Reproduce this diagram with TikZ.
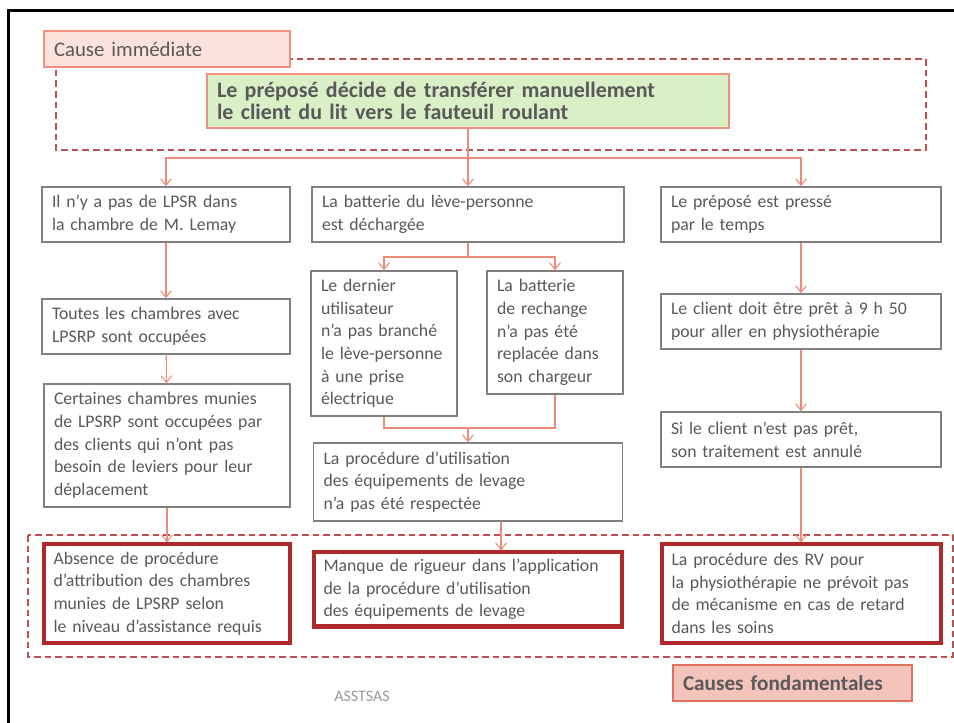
\documentclass[tikz,border=0pt]{standalone}
\usepackage{fontspec}
\setmainfont{Carlito}
\usetikzlibrary{arrows.meta}
\definecolor{txt}{HTML}{595959}
\definecolor{conn}{HTML}{EE8B78}
\definecolor{dash}{HTML}{C0504D}
\definecolor{thick}{HTML}{B0282A}
\definecolor{gbord}{HTML}{808080}
\definecolor{cifill}{HTML}{FBE2DD}
\definecolor{ciline}{HTML}{F09080}
\definecolor{gfill}{HTML}{D9EFC5}
\definecolor{cffill}{HTML}{F4C3BA}
\definecolor{cfline}{HTML}{E07060}
\newcommand{\bodyfs}{\fontsize{13.3}{17}\selectfont}
\begin{document}
\begin{tikzpicture}[x=0.75pt,y=-0.75pt,
  wh/.code 2 args={%
    \pgfmathsetlengthmacro\boxw{#1*0.75pt}%
    \pgfmathsetlengthmacro\boxh{#2*0.75pt}%
    \pgfmathsetlengthmacro\boxtw{(#1-20)*0.75pt}%
    \pgfkeysalso{minimum width=\boxw, minimum height=\boxh, text width=\boxtw}},
  basebox/.style={align=left, inner xsep=7.5pt, inner ysep=2pt, text=txt, font=\bodyfs},
  box/.style={basebox, draw=gbord, line width=1.1pt, fill=white},
  rootbox/.style={basebox, draw=thick, line width=3pt, fill=white},
  tag/.style={basebox, draw=ciline, line width=0.9pt},
  group/.style={draw=dash, line width=1.5pt, dash pattern=on 5pt off 3pt},
  conn/.style={draw=conn, line width=0.8pt},
  arr/.style={conn, -{Straight Barb[length=5pt,width=8pt]}},
]
\useasboundingbox (0,0) rectangle (954,723);
\fill[white] (0,0) rectangle (954,723);
\draw[black, line width=2.2pt] (8.5,723) -- (8.5,10.5) -- (954,10.5);

% top group
\draw[group] (56,59) rectangle (926,150);
\node[tag, fill=cifill, wh={246}{36}, font=\fontsize{15.6}{17}\selectfont] (ci) at (167,49) {Cause immédiate};
\node[tag, fill=gfill, draw=ciline, wh={522}{54}, font=\fontsize{16.5}{16}\selectfont\bfseries] (g) at (468,101)
  {Le préposé décide de transférer manuellement\\le client du lit vers le fauteuil roulant};

% bottom group
\draw[group] (28,535) rectangle (953,657);

% column A
\node[box, wh={248}{55}] (a1) at (166,214.5) {Il n’y a pas de LPSR dans\\la chambre de M. Lemay};
\node[box, wh={248}{55}] (a2) at (166,326.5) {Toutes les chambres avec\\LPSRP sont occupées};
\node[box, wh={246}{123}] (a3) at (167,445.5) {Certaines chambres munies\\de LPSRP sont occupées par\\des clients qui n’ont pas\\besoin de leviers pour leur\\déplacement};

% column B
\node[box, wh={312}{55}] (b1) at (468,214.5) {La batterie du lève-personne\\est déchargée};
\node[box, wh={146}{145}] (b2a) at (384,343.5) {Le dernier\\utilisateur\\n’a pas branché\\le lève-personne\\à une prise\\électrique};
\node[box, wh={136}{123}] (b2b) at (555,332.5) {La batterie\\de rechange\\n’a pas été\\replacée dans\\son chargeur};
\node[box, wh={309}{78}] (b3) at (468,482) {La procédure d’utilisation\\des équipements de levage\\n’a pas été respectée};

% column C
\node[box, wh={280}{55}] (c1) at (801,214.5) {Le préposé est pressé\\par le temps};
\node[box, wh={280}{55}] (c2) at (801,321.5) {Le client doit être prêt à 9 h 50\\pour aller en physiothérapie};
\node[box, wh={280}{55}] (c3) at (801,439.5) {Si le client n’est pas prêt,\\son traitement est annulé};

% root causes
\node[rootbox, wh={246}{98}] (d1) at (166.5,593.5) {Absence de procédure\\d’attribution des chambres\\munies de LPSRP selon\\le niveau d’assistance requis};
\node[rootbox, wh={308}{74}] (d2) at (467.5,589.5) {Manque de rigueur dans l’application\\de la procédure d’utilisation\\des équipements de levage};
\node[rootbox, wh={279}{98}] (d3) at (801,593.5) {La procédure des RV pour\\la physiothérapie ne prévoit pas\\de mécanisme en cas de retard\\dans les soins};

\node[tag, draw=cfline, fill=cffill, wh={239}{36}, font=\fontsize{15.9}{17}\selectfont\bfseries] (cf) at (792.5,683) {Causes fondamentales};
\node[text=gbord!80, font=\fontsize{12}{13}\selectfont] (asst) at (362,696) {ASSTSAS};

% connectors
\coordinate (jt) at (468,158);
\draw[conn] (g.south) -- (jt);
\draw[arr] (jt) -| (a1.north);
\draw[arr] (jt) -- (b1.north);
\draw[arr] (jt) -| (c1.north);

\draw[arr] (a1) -- (a2);
\draw[arr] (a2) -- (a3);
\draw[arr] (a3.south) -- (a3.south |- d1.north);

\coordinate (jb) at (468,257);
\draw[conn] (b1.south) -- (jb);
\draw[arr] (jb) -| (b2a.north);
\draw[arr] (jb) -| (b2b.north);
\coordinate (jm) at (468,428);
\draw[conn] (b2a.south) |- (jm);
\draw[conn] (b2b.south) |- (jm);
\draw[arr] (jm) -- (b3.north);
\coordinate (xb) at (501,0);
\draw[arr] (b3.south -| xb) -- (d2.north -| xb);

\draw[arr] (c1) -- (c2);
\draw[arr] (c2) -- (c3);
\draw[arr] (c3.south) -- (c3.south |- d3.north);
\end{tikzpicture}
\end{document}
